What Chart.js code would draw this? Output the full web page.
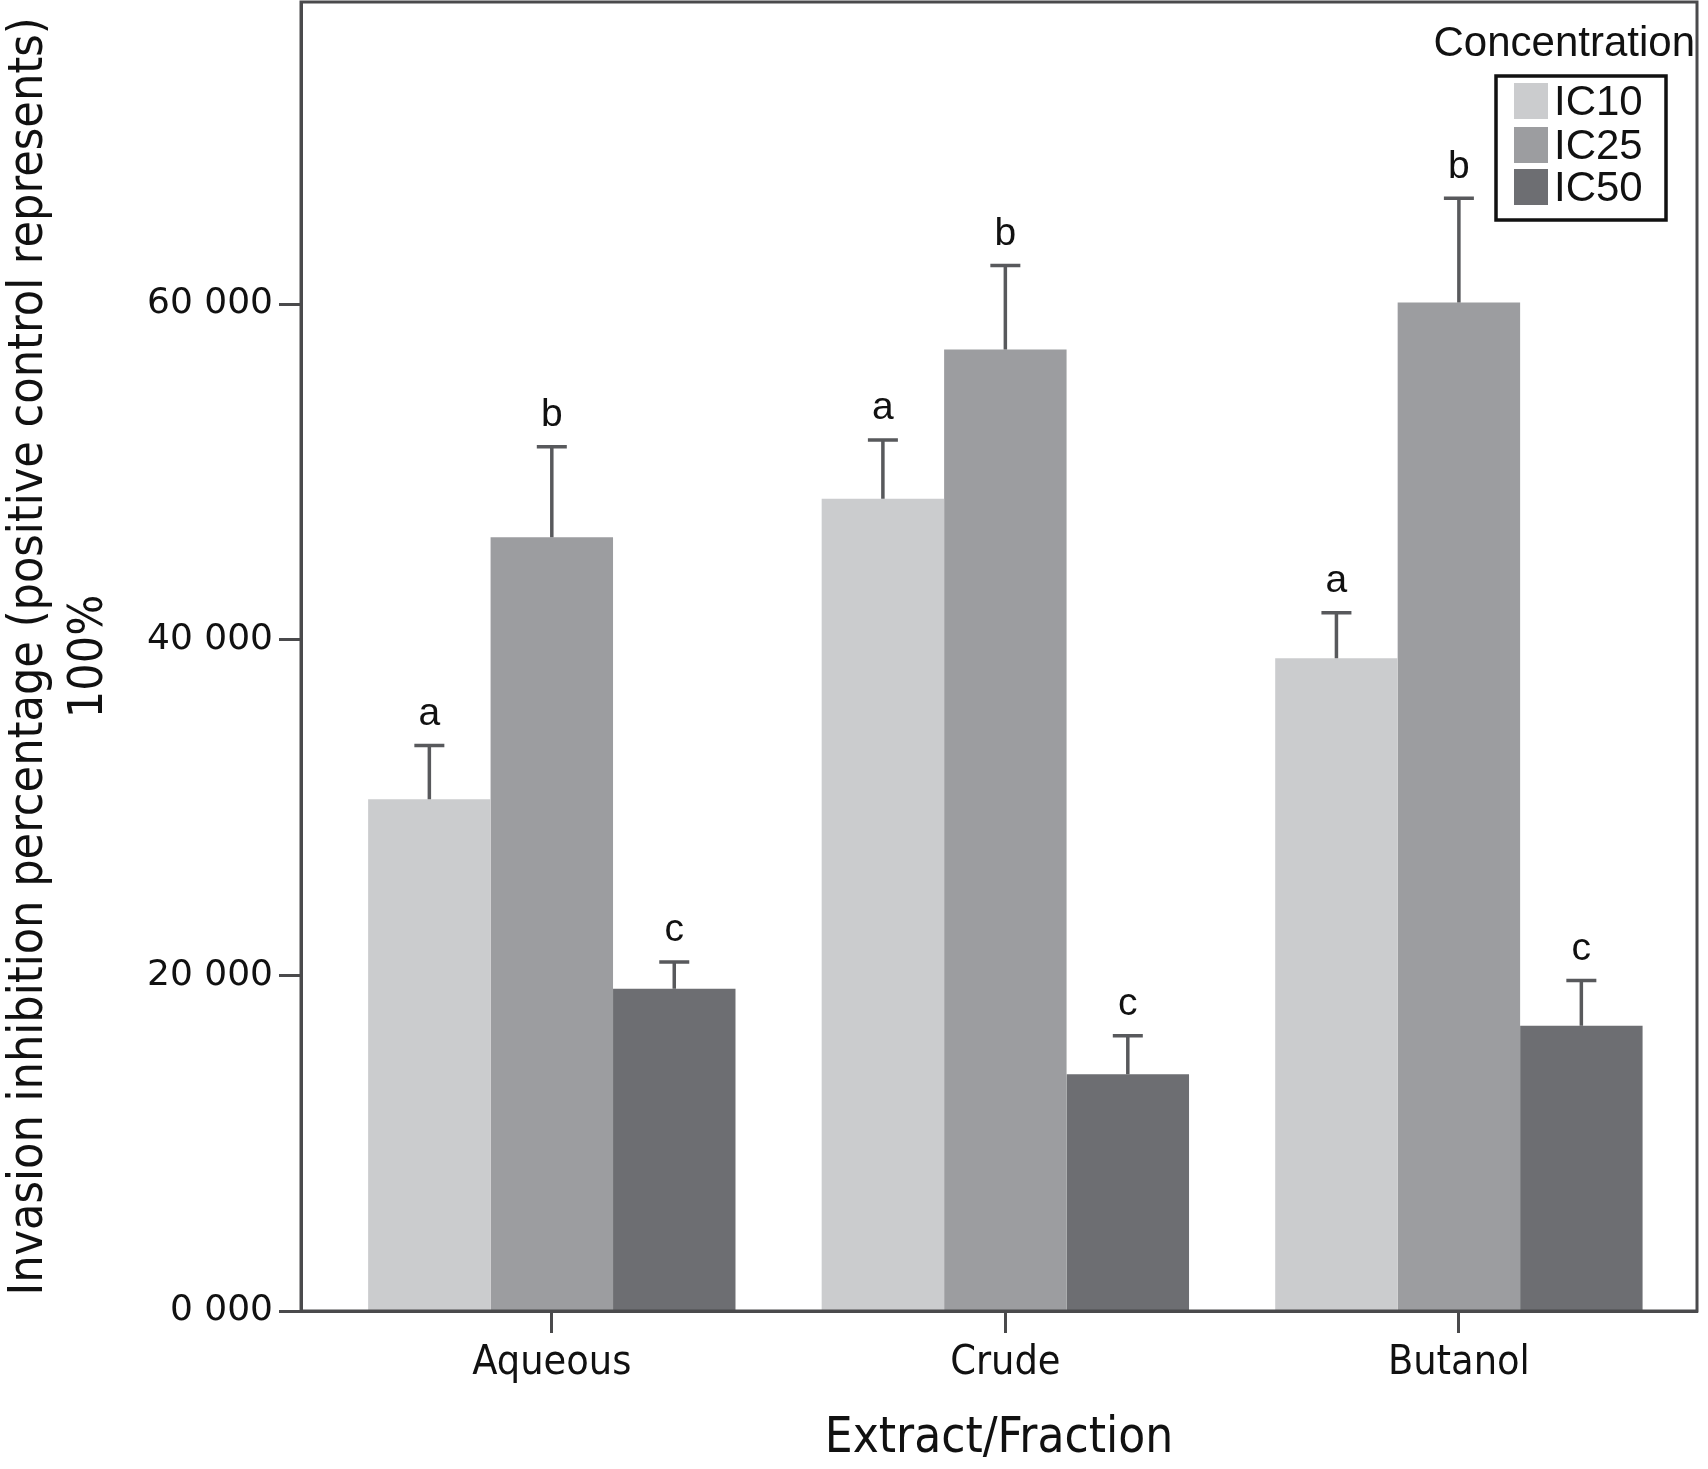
<!DOCTYPE html>
<html>
<head>
<meta charset="utf-8">
<script src="https://cdn.jsdelivr.net/npm/chart.js@4"></script>
<style>
  html, body { margin: 0; padding: 0; background: #fff; }
  #wrap { width: 1708px; height: 1469px; }
</style>
</head>
<body>
<div id="wrap"><canvas id="chart"></canvas></div>
<script>
// data
const categories = ['Aqueous', 'Crude', 'Butanol'];
const seriesNames = ['IC10', 'IC25', 'IC50'];
const ic10 = [30500, 48400, 38900];
const ic25 = [46100, 57300, 60100];
const ic50 = [19200, 14100, 17000];
const ic10Err = [3200, 3500, 2700];
const ic25Err = [5400, 5000, 6200];
const ic50Err = [1600, 2300, 2700];
const letters = ['a', 'b', 'c'];
const yTicks = [0, 20000, 40000, 60000];
const yTickLabels = ['0 000', '20 000', '40 000', '60 000'];
const colors = ['#cbccce', '#9c9da0', '#6d6e72'];

const values = [ic10, ic25, ic50];
const errors = [ic10Err, ic25Err, ic50Err];

const titleFont = "'DejaVu Sans Condensed', 'Liberation Sans', sans-serif";
const plainFont = "'Liberation Sans', Arial, sans-serif";

const datasets = seriesNames.map((name, s) => ({
    label: name,
    data: values[s].map((v, i) => ({ x: i, y: v })),
    backgroundColor: colors[s],
    borderWidth: 0,
    categoryPercentage: 0.81,
    barPercentage: 1.0
}));

// error bars plus significance letters
const errorBars = {
    id: 'errorBars',
    afterDatasetsDraw(chart) {
        const ctx = chart.ctx;
        const y = chart.scales.y;
        ctx.save();
        chart.data.datasets.forEach((ds, s) => {
            const meta = chart.getDatasetMeta(s);
            meta.data.forEach((bar, i) => {
                const top = y.getPixelForValue(values[s][i]);
                const end = y.getPixelForValue(values[s][i] + errors[s][i]);
                ctx.strokeStyle = '#58595c';
                ctx.lineWidth = 3.5;
                ctx.beginPath();
                ctx.moveTo(bar.x, top);
                ctx.lineTo(bar.x, end);
                ctx.moveTo(bar.x - 15, end);
                ctx.lineTo(bar.x + 15, end);
                ctx.stroke();
                ctx.fillStyle = '#111';
                ctx.font = '39px ' + plainFont;
                ctx.textAlign = 'center';
                ctx.textBaseline = 'bottom';
                ctx.fillText(letters[s], bar.x, end - 12);
            });
        });
        ctx.restore();
    }
};

// plot frame and the boxed legend
const frameAndLegend = {
    id: 'frameAndLegend',
    afterDraw(chart) {
        const ctx = chart.ctx;
        const a = chart.chartArea;
        ctx.save();
        ctx.strokeStyle = '#4a4a4c';
        ctx.lineWidth = 3;
        ctx.strokeRect(a.left, a.top, a.right - a.left, a.bottom - a.top);

        ctx.fillStyle = '#111';
        ctx.font = '42px ' + plainFont;
        ctx.textAlign = 'right';
        ctx.textBaseline = 'middle';
        ctx.fillText('Concentration', a.right - 2, 44);

        ctx.strokeStyle = '#111';
        ctx.lineWidth = 3.5;
        ctx.strokeRect(1496, 76, 170, 144);
        const rows = [101, 145, 187];
        chart.data.datasets.forEach((ds, s) => {
            ctx.fillStyle = ds.backgroundColor;
            ctx.fillRect(1514, rows[s] - 18, 34, 36);
            ctx.fillStyle = '#111';
            ctx.textAlign = 'left';
            ctx.fillText(ds.label, 1554, rows[s] + 2);
        });
        ctx.restore();
    }
};

new Chart(document.getElementById('chart'), {
    type: 'bar',
    data: { datasets: datasets },
    plugins: [errorBars, frameAndLegend],
    options: {
        responsive: true,
        maintainAspectRatio: false,
        animation: false,
        layout: { padding: { top: 2, right: 11, left: 0, bottom: 0 } },
        plugins: {
            legend: { display: false },
            tooltip: { enabled: false }
        },
        scales: {
            x: {
                type: 'linear',
                min: -0.553,
                max: 2.525,
                offset: false,
                afterBuildTicks: scale => {
                    scale.ticks = categories.map((c, i) => ({ value: i }));
                },
                afterFit: scale => {
                    scale.height = 158;
                    scale.paddingLeft = 0;
                    scale.paddingRight = 0;
                },
                ticks: {
                    callback: v => categories[v],
                    color: '#111',
                    font: { family: titleFont, size: 41 },
                    padding: 6,
                    maxRotation: 0
                },
                grid: {
                    offset: false,
                    drawOnChartArea: false,
                    drawTicks: true,
                    tickLength: 22,
                    tickWidth: 3,
                    tickColor: '#4a4a4c'
                },
                border: { display: true, color: '#4a4a4c', width: 3 },
                title: {
                    display: true,
                    text: 'Extract/Fraction',
                    color: '#111',
                    font: { family: titleFont, size: 49 },
                    padding: { top: 2, bottom: 0 }
                }
            },
            y: {
                min: 0,
                max: 78000,
                afterBuildTicks: scale => {
                    scale.ticks = yTicks.map(v => ({ value: v }));
                },
                afterFit: scale => {
                    scale.width = 301;
                    scale.paddingTop = 0;
                    scale.paddingBottom = 0;
                },
                ticks: {
                    callback: (v) => yTickLabels[yTicks.indexOf(v)],
                    color: '#111',
                    font: { family: "'DejaVu Sans', sans-serif", size: 36 },
                    padding: 6
                },
                grid: {
                    drawOnChartArea: false,
                    drawTicks: true,
                    tickLength: 22,
                    tickWidth: 3,
                    tickColor: '#4a4a4c'
                },
                border: { display: true, color: '#4a4a4c', width: 3 },
                title: {
                    display: true,
                    text: ['Invasion inhibition percentage (positive control represents)', '100%'],
                    color: '#111',
                    font: { family: titleFont, size: 48, lineHeight: 1.25 },
                    padding: { top: 0, bottom: 0 }
                }
            }
        }
    }
});
</script>
</body>
</html>
